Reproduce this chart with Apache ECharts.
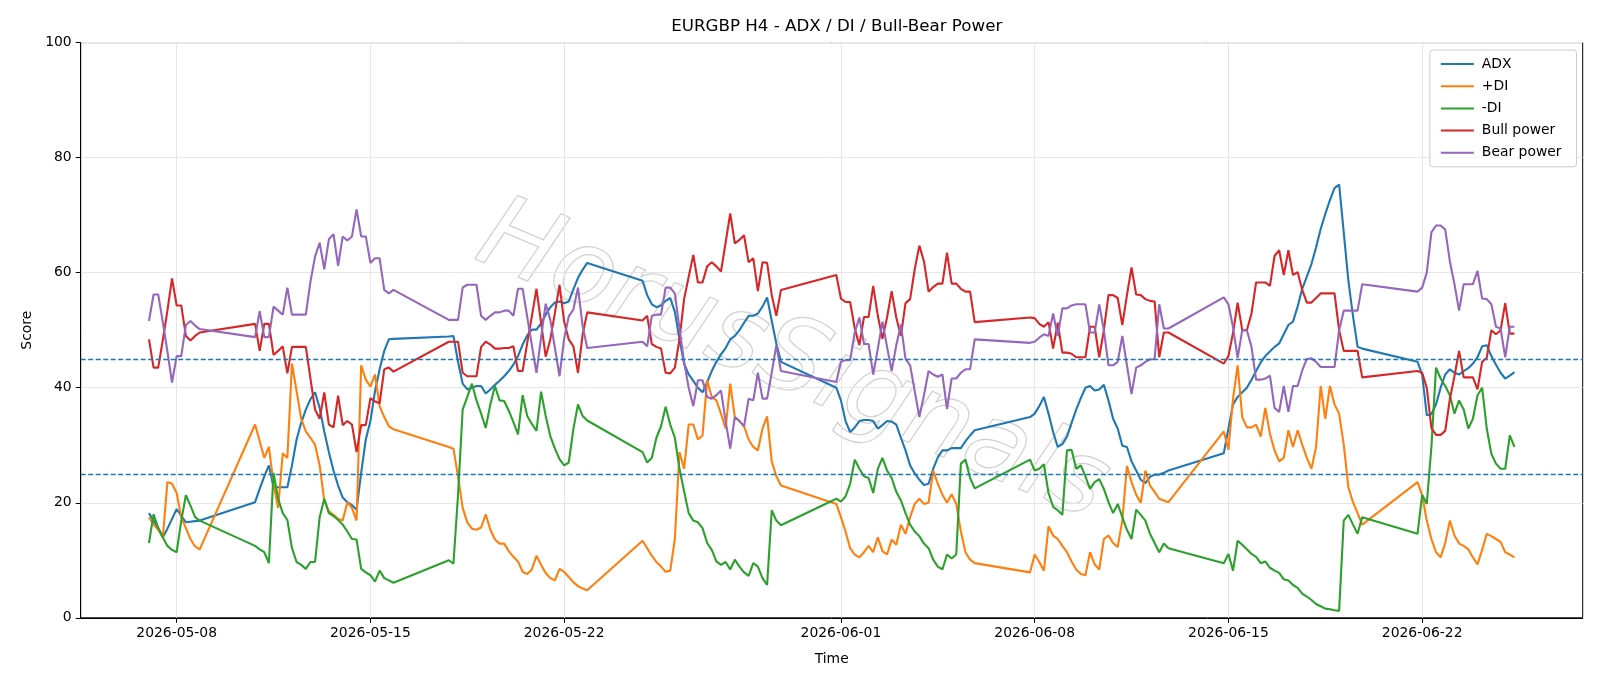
<!DOCTYPE html>
<html>
<head>
<meta charset="utf-8">
<script src="https://cdn.jsdelivr.net/npm/echarts@6/dist/echarts.min.js"></script>
<style>
    html, body { margin: 0; padding: 0; background: #fff; }
    #chart { width: 1600px; height: 686px; }
</style>
</head>
<body>
<div id="chart"></div>
<script>
// H4 bar times (UTC, year 2026), weekly sessions Sun 20:00 -> Fri 20:00
var times = [
    '05-07 00','05-07 04','05-07 08','05-07 12','05-07 16','05-07 20','05-08 00','05-08 04','05-08 08','05-08 12','05-08 16','05-08 20',
    '05-10 20','05-11 00','05-11 04','05-11 08','05-11 12','05-11 16','05-11 20','05-12 00','05-12 04','05-12 08','05-12 12','05-12 16','05-12 20',
    '05-13 00','05-13 04','05-13 08','05-13 12','05-13 16','05-13 20','05-14 00','05-14 04','05-14 08','05-14 12','05-14 16','05-14 20',
    '05-15 00','05-15 04','05-15 08','05-15 12','05-15 16','05-15 20',
    '05-17 20','05-18 00','05-18 04','05-18 08','05-18 12','05-18 16','05-18 20','05-19 00','05-19 04','05-19 08','05-19 12','05-19 16','05-19 20',
    '05-20 00','05-20 04','05-20 08','05-20 12','05-20 16','05-20 20','05-21 00','05-21 04','05-21 08','05-21 12','05-21 16','05-21 20',
    '05-22 00','05-22 04','05-22 08','05-22 12','05-22 16','05-22 20',
    '05-24 20','05-25 00','05-25 04','05-25 08','05-25 12','05-25 16','05-25 20','05-26 00','05-26 04','05-26 08','05-26 12','05-26 16','05-26 20',
    '05-27 00','05-27 04','05-27 08','05-27 12','05-27 16','05-27 20','05-28 00','05-28 04','05-28 08','05-28 12','05-28 16','05-28 20',
    '05-29 00','05-29 04','05-29 08','05-29 12','05-29 16','05-29 20',
    '05-31 20','06-01 00','06-01 04','06-01 08','06-01 12','06-01 16','06-01 20','06-02 00','06-02 04','06-02 08','06-02 12','06-02 16','06-02 20',
    '06-03 00','06-03 04','06-03 08','06-03 12','06-03 16','06-03 20','06-04 00','06-04 04','06-04 08','06-04 12','06-04 16','06-04 20',
    '06-05 00','06-05 04','06-05 08','06-05 12','06-05 16','06-05 20',
    '06-07 20','06-08 00','06-08 04','06-08 08','06-08 12','06-08 16','06-08 20','06-09 00','06-09 04','06-09 08','06-09 12','06-09 16','06-09 20',
    '06-10 00','06-10 04','06-10 08','06-10 12','06-10 16','06-10 20','06-11 00','06-11 04','06-11 08','06-11 12','06-11 16','06-11 20',
    '06-12 00','06-12 04','06-12 08','06-12 12','06-12 16','06-12 20',
    '06-14 20','06-15 00','06-15 04','06-15 08','06-15 12','06-15 16','06-15 20','06-16 00','06-16 04','06-16 08','06-16 12','06-16 16','06-16 20',
    '06-17 00','06-17 04','06-17 08','06-17 12','06-17 16','06-17 20','06-18 00','06-18 04','06-18 08','06-18 12','06-18 16','06-18 20',
    '06-19 00','06-19 04','06-19 08','06-19 12','06-19 16','06-19 20',
    '06-21 20','06-22 00','06-22 04','06-22 08','06-22 12','06-22 16','06-22 20','06-23 00','06-23 04','06-23 08','06-23 12','06-23 16','06-23 20',
    '06-24 00','06-24 04','06-24 08','06-24 12','06-24 16','06-24 20','06-25 00','06-25 04','06-25 08'
];

var adx = [
    18.2, 16.9, 15.6, 14.0, 15.5, 17.2, 18.9, 17.7, 16.6, 16.7, 16.8, 16.9,
    20.1, 22.4, 24.6, 26.5, 22.7, 22.7, 22.7, 22.7, 26.5, 31.0, 33.9, 36.2, 38.0, 39.2, 36.5, 32.4, 28.8, 25.6, 23.0, 20.9, 20.1, 19.6, 18.8, 25.2, 31.0, 34.2, 39.4, 43.2, 46.4, 48.4, 48.5,
    48.9, 49.0, 44.5, 40.7, 39.7, 40.0, 40.3, 40.3, 39.0, 39.7, 40.5, 41.2, 42.0, 42.9, 44.0, 45.5, 47.5, 49.1, 50.1, 50.1, 51.2, 52.7, 54.0, 54.8, 55.0, 54.7, 55.0, 57.1, 59.1, 60.5, 61.7,
    58.6, 56.1, 54.5, 54.0, 54.3, 55.1, 55.6, 53.2, 48.4, 44.2, 42.3, 41.2, 40.0, 39.2, 41.0, 42.9, 44.5, 45.8, 46.9, 48.4, 49.0, 50.0, 51.3, 52.5, 52.5, 52.9, 54.1, 55.7, 51.6, 47.7, 44.5,
    40.0, 37.8, 34.2, 32.3, 33.1, 34.2, 34.4, 34.4, 34.2, 32.9, 33.5, 34.2, 34.1, 33.6, 31.3, 29.1, 26.5, 25.1, 24.0, 23.1, 23.3, 25.9, 27.9, 29.1, 29.1, 29.5, 29.5, 29.5, 30.7, 31.7, 32.6,
    34.9, 35.5, 36.8, 38.4, 35.5, 32.3, 29.7, 30.2, 31.5, 33.9, 36.2, 38.2, 40.0, 40.3, 39.5, 39.7, 40.5, 37.8, 34.6, 32.9, 29.9, 29.7, 27.2, 25.6, 24.0, 23.4, 24.5, 24.9, 24.9, 25.2, 25.6,
    28.6, 32.9, 37.1, 38.4, 39.2, 40.0, 41.4, 42.9, 44.4, 45.5, 46.3, 47.1, 47.7, 49.3, 50.9, 51.5, 54.1, 57.2, 59.3, 61.5, 64.4, 67.6, 70.2, 72.6, 74.7, 75.3, 67.0, 58.6, 52.5, 47.1, 46.8,
    44.5, 42.3, 35.2, 35.4, 37.1, 40.0, 42.3, 43.2, 42.6, 42.3, 42.9, 43.4, 44.2, 45.3, 47.2, 47.4, 45.5, 44.0, 42.6, 41.6, 42.1, 42.7
];

var plusDI = [
    17.5, 16.2, 15.3, 14.0, 23.6, 23.3, 21.7, 17.5, 15.6, 13.7, 12.4, 11.9,
    33.6, 30.7, 27.8, 29.7, 23.3, 19.1, 28.6, 27.8, 44.2, 39.4, 34.6, 32.4, 31.3, 30.1, 26.5, 20.4, 18.5, 17.9, 17.2, 16.9, 20.1, 19.1, 16.9, 43.9, 41.4, 40.2, 42.3, 36.8, 34.9, 33.3, 32.8,
    29.7, 29.4, 24.6, 19.1, 16.6, 15.5, 15.3, 15.7, 18.0, 15.3, 13.6, 12.9, 12.9, 11.6, 10.6, 9.8, 8.0, 7.6, 8.4, 10.8, 9.2, 7.8, 6.9, 6.5, 8.5, 8.0, 7.1, 6.2, 5.5, 5.1, 4.8,
    13.4, 12.1, 10.8, 9.7, 8.9, 8.0, 8.2, 13.7, 28.8, 25.9, 33.6, 33.6, 31.0, 31.7, 41.3, 38.4, 37.8, 35.5, 32.9, 40.7, 34.9, 34.2, 33.3, 31.0, 29.7, 29.1, 32.9, 35.0, 27.2, 24.6, 23.0,
    19.8, 17.5, 15.0, 12.1, 11.0, 10.5, 11.4, 12.5, 11.4, 14.0, 11.6, 11.0, 13.6, 12.7, 16.2, 14.6, 17.5, 19.8, 20.7, 19.8, 20.0, 25.6, 23.3, 21.4, 20.0, 21.5, 19.8, 15.0, 11.4, 10.1, 9.5,
    7.9, 11.0, 9.7, 8.2, 15.9, 14.3, 13.7, 12.5, 11.4, 9.8, 8.4, 7.6, 7.4, 11.4, 9.3, 8.4, 13.7, 14.3, 13.0, 12.3, 16.9, 26.4, 23.6, 21.4, 20.0, 25.6, 23.0, 21.9, 20.7, 20.4, 20.1,
    32.4, 29.2, 38.1, 43.9, 34.9, 33.1, 33.1, 33.6, 31.5, 36.5, 32.0, 29.1, 27.2, 27.8, 32.6, 29.7, 32.6, 30.1, 27.8, 25.9, 29.7, 40.3, 34.6, 40.3, 37.1, 35.5, 30.1, 22.7, 20.1, 18.2, 16.2,
    23.6, 21.3, 16.9, 13.7, 11.4, 10.5, 13.0, 16.9, 14.3, 12.9, 12.5, 11.9, 10.5, 9.3, 11.8, 14.6, 14.2, 13.7, 13.2, 11.4, 11.0, 10.5
];

var minusDI = [
    13.0, 18.0, 15.6, 14.0, 12.5, 11.8, 11.4, 16.9, 21.3, 19.5, 17.5, 16.9,
    12.5, 11.9, 11.4, 9.5, 25.2, 20.7, 18.2, 17.0, 12.1, 9.7, 9.2, 8.5, 9.7, 9.7, 17.5, 20.7, 18.2, 17.7, 17.0, 16.2, 15.0, 13.7, 13.6, 8.5, 7.9, 7.4, 6.3, 8.2, 6.9, 6.5, 6.1,
    10.0, 9.4, 21.4, 36.2, 38.4, 40.7, 37.8, 35.5, 33.0, 37.1, 40.3, 37.8, 37.7, 36.0, 34.0, 31.9, 38.7, 35.1, 33.7, 32.5, 39.3, 35.1, 31.6, 29.4, 27.6, 26.5, 27.0, 32.8, 37.1, 35.1, 34.3,
    28.8, 27.0, 27.8, 31.3, 33.3, 36.7, 33.6, 31.3, 25.9, 22.0, 18.2, 16.9, 16.6, 15.6, 13.0, 11.8, 9.8, 9.2, 9.7, 8.4, 10.1, 8.9, 7.9, 7.3, 9.5, 8.9, 6.9, 5.7, 18.7, 16.9, 16.1,
    20.7, 20.2, 21.1, 23.3, 27.5, 25.9, 24.6, 24.3, 21.7, 25.9, 27.8, 25.6, 24.3, 21.9, 20.4, 18.2, 16.2, 15.0, 14.2, 12.9, 12.1, 10.1, 8.9, 8.4, 11.0, 10.3, 11.0, 26.8, 27.5, 24.3, 22.5,
    27.5, 25.6, 25.9, 26.7, 21.7, 19.3, 18.7, 17.9, 29.1, 29.2, 25.9, 26.5, 24.6, 22.4, 23.6, 24.1, 22.4, 20.1, 18.2, 19.8, 17.5, 15.3, 13.7, 18.8, 17.9, 16.9, 14.6, 13.0, 11.4, 12.9, 12.1,
    9.5, 11.1, 8.2, 13.4, 12.7, 11.9, 11.1, 10.6, 9.5, 9.8, 8.7, 8.2, 7.8, 6.7, 6.5, 5.7, 5.2, 4.2, 3.7, 3.1, 2.4, 2.0, 1.6, 1.5, 1.3, 1.2, 16.9, 17.9, 16.2, 14.6, 17.5,
    14.6, 21.4, 19.8, 29.7, 43.5, 41.6, 40.3, 38.7, 35.5, 37.8, 36.2, 32.9, 34.6, 38.7, 40.0, 32.9, 28.5, 26.8, 25.9, 25.9, 31.7, 29.7
];

var bullPower = [
    48.4, 43.5, 43.5, 48.3, 53.4, 59.0, 54.3, 54.3, 49.0, 48.2, 49.0, 49.6,
    51.1, 46.4, 51.1, 51.1, 45.7, 46.4, 47.2, 42.5, 47.1, 47.1, 47.1, 47.1, 41.6, 36.2, 34.6, 39.2, 33.6, 33.1, 38.6, 33.5, 34.2, 33.6, 28.8, 33.5, 33.5, 38.2, 37.6, 37.3, 43.2, 43.5, 42.8,
    48.0, 48.0, 48.0, 42.6, 42.0, 42.0, 42.0, 47.1, 48.0, 47.5, 46.8, 46.8, 46.9, 46.9, 47.2, 42.9, 42.9, 47.8, 52.4, 57.2, 51.3, 45.4, 48.4, 53.0, 57.9, 51.5, 48.4, 47.2, 42.6, 49.2, 53.1,
    51.7, 52.5, 47.6, 47.1, 46.8, 42.6, 42.5, 43.5, 48.4, 55.4, 59.3, 63.1, 58.3, 58.3, 61.1, 61.8, 61.1, 60.2, 65.2, 70.3, 65.1, 65.7, 66.5, 61.8, 62.5, 56.8, 61.8, 61.7, 56.1, 52.5, 57.0,
    59.6, 55.5, 54.9, 54.9, 50.3, 47.4, 52.3, 52.3, 57.7, 52.5, 48.5, 52.2, 56.8, 52.2, 49.0, 54.7, 55.4, 60.6, 64.7, 62.0, 56.7, 57.5, 58.1, 58.1, 63.5, 58.1, 58.1, 57.2, 56.7, 56.7, 51.4,
    52.2, 52.1, 51.1, 50.6, 51.4, 46.8, 51.3, 46.1, 46.1, 45.9, 45.3, 45.3, 45.3, 50.6, 50.6, 45.3, 50.0, 56.1, 56.1, 55.6, 50.9, 56.1, 60.9, 56.2, 56.1, 55.4, 55.1, 55.0, 45.3, 49.6, 49.6,
    44.2, 45.5, 49.5, 54.8, 50.0, 50.0, 52.9, 58.3, 58.3, 58.3, 57.7, 62.9, 63.9, 59.6, 63.9, 59.6, 60.1, 57.0, 54.8, 54.8, 55.6, 56.4, 56.4, 56.4, 56.4, 50.0, 46.4, 46.4, 46.4, 46.4, 41.8,
    42.9, 42.6, 40.0, 33.0, 31.8, 31.8, 32.5, 38.0, 42.0, 46.4, 41.8, 41.8, 41.8, 39.7, 44.5, 45.2, 50.0, 49.3, 50.0, 54.7, 49.4, 49.4
];

var bearPower = [
    51.6, 56.2, 56.2, 51.4, 46.3, 40.9, 45.5, 45.5, 50.9, 51.6, 50.8, 50.2,
    48.8, 53.3, 48.8, 48.8, 54.1, 53.4, 52.7, 57.4, 52.7, 52.7, 52.7, 52.7, 58.4, 62.8, 65.2, 60.6, 65.8, 66.7, 61.2, 66.3, 65.6, 66.3, 71.0, 66.3, 66.3, 61.7, 62.5, 62.5, 57.0, 56.4, 57.0,
    51.8, 51.8, 51.8, 57.4, 57.9, 57.9, 57.9, 52.5, 51.8, 52.5, 53.1, 53.1, 53.4, 53.4, 52.5, 57.2, 57.2, 52.3, 47.4, 42.6, 48.7, 54.6, 51.8, 46.9, 42.0, 48.5, 52.4, 53.6, 57.4, 50.8, 46.9,
    48.0, 47.2, 52.5, 52.7, 52.7, 57.4, 57.4, 56.4, 50.3, 44.5, 40.0, 36.8, 41.3, 41.3, 38.4, 38.1, 38.7, 39.5, 34.2, 29.4, 34.9, 34.2, 33.3, 38.1, 37.8, 42.6, 38.1, 38.1, 42.6, 47.4, 42.9,
    41.0, 44.5, 44.8, 44.8, 49.6, 52.2, 47.6, 47.6, 42.3, 46.8, 51.5, 47.1, 42.9, 47.4, 51.0, 45.0, 43.9, 39.4, 34.9, 38.7, 42.9, 42.3, 41.9, 42.3, 36.3, 41.6, 41.6, 42.6, 43.2, 43.2, 48.4,
    47.8, 48.0, 48.7, 49.3, 49.0, 52.9, 49.0, 53.8, 53.8, 54.3, 54.5, 54.5, 54.5, 49.6, 49.6, 54.5, 50.0, 43.9, 43.9, 44.5, 49.0, 43.9, 38.9, 43.5, 43.9, 44.5, 44.9, 45.0, 54.5, 50.3, 50.3,
    55.7, 54.5, 50.5, 45.2, 50.0, 50.0, 47.1, 41.4, 41.4, 41.6, 42.1, 36.5, 35.8, 40.3, 35.8, 40.3, 40.3, 43.0, 45.0, 45.1, 44.5, 43.6, 43.6, 43.6, 43.6, 50.0, 53.4, 53.4, 53.4, 53.4, 58.0,
    56.7, 57.4, 60.0, 67.0, 68.2, 68.2, 67.5, 62.0, 58.0, 53.4, 58.0, 58.0, 58.0, 60.3, 55.5, 55.4, 54.5, 50.6, 50.3, 45.3, 50.6, 50.6
];

var tickDates = ['2026-05-08', '2026-05-15', '2026-05-22', '2026-06-01', '2026-06-08', '2026-06-15', '2026-06-22'];
var refLevels = [45, 25];

function toMs(s) {
    // 'MM-DD HH' -> UTC ms in 2026
    var m = +s.substr(0, 2), d = +s.substr(3, 2), h = +s.substr(6, 2);
    return Date.UTC(2026, m - 1, d, h, 0);
}
function dayMs(s) {
    var p = s.split('-');
    return Date.UTC(+p[0], +p[1] - 1, +p[2]);
}
function pad(n) { return n < 10 ? '0' + n : '' + n; }
function fmtDay(v) {
    var dt = new Date(v);
    return dt.getUTCFullYear() + '-' + pad(dt.getUTCMonth() + 1) + '-' + pad(dt.getUTCDate());
}

var xs = times.map(toMs);
function pairs(vals) {
    return vals.map(function (v, i) { return [xs[i], v]; });
}

var span = xs[xs.length - 1] - xs[0];
var xMin = xs[0] - span * 0.05;
var xMax = xs[xs.length - 1] + span * 0.05;
var tickMs = tickDates.map(dayMs);

var FONT = 'DejaVu Sans';
var chart = echarts.init(document.getElementById('chart'));

function lineSeries(name, vals, color) {
    return {
        name: name,
        type: 'line',
        data: pairs(vals),
        symbol: 'none',
        showSymbol: false,
        lineStyle: { color: color, width: 2.1 },
        itemStyle: { color: color },
        z: 2,
        animation: false
    };
}

var series = [
    lineSeries('ADX', adx, '#1f77b4'),
    lineSeries('+DI', plusDI, '#ff7f0e'),
    lineSeries('-DI', minusDI, '#2ca02c'),
    lineSeries('Bull power', bullPower, '#d62728'),
    lineSeries('Bear power', bearPower, '#9467bd')
];

// vertical grid lines at the date ticks
series.push({
    type: 'line',
    data: [],
    silent: true,
    markLine: {
        silent: true,
        symbol: 'none',
        z: 1,
        label: { show: false },
        lineStyle: { color: '#e6e6e6', width: 1, type: 'solid' },
        data: tickMs.map(function (t) { return { xAxis: t }; }),
        animation: false
    }
});
// reference levels
series.push({
    type: 'line',
    data: [],
    silent: true,
    markLine: {
        silent: true,
        symbol: 'none',
        z: 3,
        label: { show: false },
        lineStyle: { color: '#1f77b4', width: 1.3, type: [5, 2.5] },
        data: refLevels.map(function (v) { return { yAxis: v }; }),
        animation: false
    }
});

chart.setOption({
    animation: false,
    backgroundColor: '#ffffff',
    title: {
        text: 'EURGBP H4 - ADX / DI / Bull-Bear Power',
        left: 831.7,
        top: 13,
        textAlign: 'center',
        textStyle: { fontFamily: FONT, fontSize: 16.7, fontWeight: 'normal', color: '#000' }
    },
    legend: {
        orient: 'vertical',
        right: 23.5,
        top: 50,
        data: ['ADX', '+DI', '-DI', 'Bull power', 'Bear power'],
        icon: 'rect',
        itemWidth: 33,
        itemHeight: 2,
        itemGap: 6.2,
        padding: [6, 15, 6, 11],
        backgroundColor: 'rgba(255,255,255,0.8)',
        borderColor: '#cccccc',
        borderWidth: 1,
        borderRadius: 3,
        textStyle: { fontFamily: FONT, fontSize: 13.9, color: '#000', lineHeight: 16, padding: [0, 0, 0, 3] }
    },
    grid: {
        left: 80.7,
        right: 17.3,
        top: 42.6,
        bottom: 68.2,
        show: true,
        borderColor: '#000',
        borderWidth: 1,
        backgroundColor: 'transparent'
    },
    xAxis: {
        type: 'value',
        min: xMin,
        max: xMax,
        name: 'Time',
        nameLocation: 'middle',
        nameGap: 35,
        nameTextStyle: { fontFamily: FONT, fontSize: 13.9, color: '#000' },
        axisLine: { lineStyle: { color: '#000', width: 1 } },
        axisTick: { show: true, customValues: tickMs, length: 5, lineStyle: { color: '#000' } },
        axisLabel: {
            customValues: tickMs,
            formatter: function (v) { return fmtDay(v); },
            fontFamily: FONT, fontSize: 13.9, color: '#000', margin: 9
        },
        splitLine: { show: false }
    },
    yAxis: {
        type: 'value',
        min: 0,
        max: 100,
        interval: 20,
        name: 'Score',
        nameLocation: 'middle',
        nameGap: 46,
        nameTextStyle: { fontFamily: FONT, fontSize: 13.9, color: '#000' },
        axisLine: { show: true, lineStyle: { color: '#000', width: 1 } },
        axisTick: { show: true, length: 5, lineStyle: { color: '#000' } },
        axisLabel: { fontFamily: FONT, fontSize: 13.9, color: '#000', margin: 9 },
        splitLine: { show: true, lineStyle: { color: '#e6e6e6', width: 1 } }
    },
    graphic: [{
        type: 'text',
        x: 792,
        y: 364,
        rotation: -0.40,
        silent: true,
        z: 0,
        style: {
            text: 'HorusSignals',
            x: 0,
            y: 0,
            align: 'center',
            verticalAlign: 'middle',
            font: 'italic 103px "DejaVu Sans"',
            fill: 'rgba(255,255,255,0)',
            stroke: 'rgba(150,150,150,0.45)',
            lineWidth: 1.2
        }
    }],
    series: series
});
</script>
</body>
</html>
